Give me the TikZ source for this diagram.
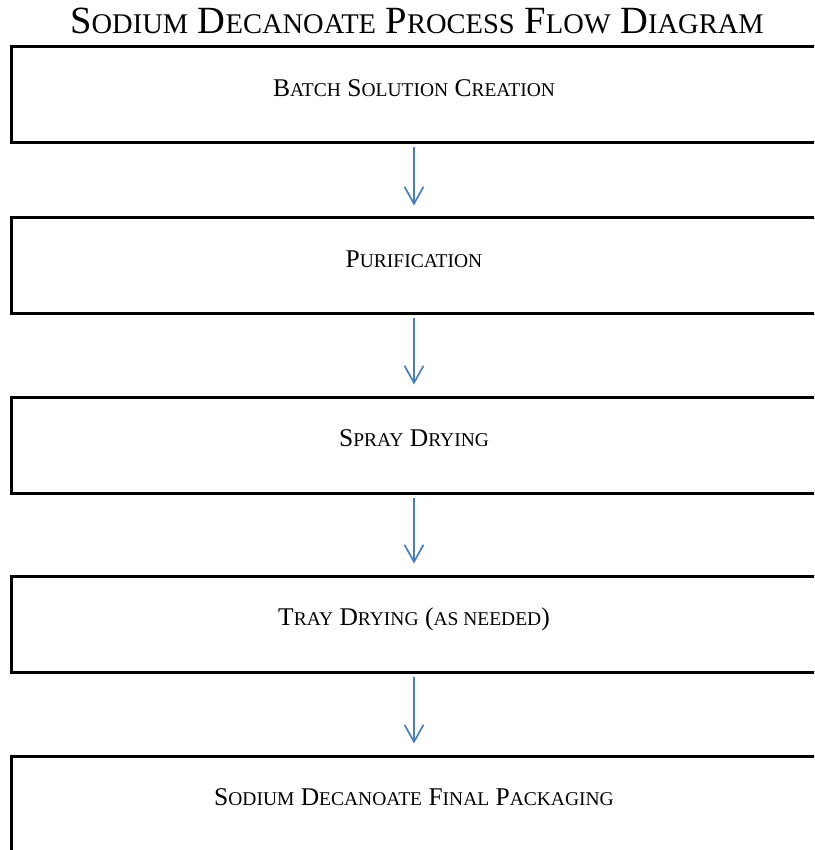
\documentclass[tikz,border=0pt]{standalone}
\usepackage{fontspec}
\setmainfont{Liberation Serif}
\usetikzlibrary{arrows.meta}
\definecolor{arrowblue}{HTML}{4A7EBB}
\newcommand\TS[1]{{\fontsize{28.5}{28.5}\selectfont #1}}
\newcommand\BS[1]{{\fontsize{19.5}{19.5}\selectfont #1}}
\begin{document}
\begin{tikzpicture}[x=1pt,y=-1pt,
  stepbox/.style={draw=black,line width=3pt,minimum width=819pt,inner sep=0pt,anchor=center},
  steptext/.style={anchor=base,inner sep=0pt,font=\fontsize{25.5}{25.5}\selectfont},
  flow/.style={draw=arrowblue,line width=1.7pt,-{Straight Barb[length=17pt,width=19pt,line width=1.7pt]},shorten <=3pt,shorten >=11pt}]
\useasboundingbox (0,0) rectangle (814,850);
\clip (0,0) rectangle (814,850);
\node[anchor=base,inner sep=0pt,font=\fontsize{38.5}{38.5}\selectfont] (title) at (417,33.5)
  {S\TS{ODIUM} D\TS{ECANOATE} P\TS{ROCESS} F\TS{LOW} D\TS{IAGRAM}};
\node[stepbox,minimum height=96pt] (b1) at (420.5,95) {};
\node[stepbox,minimum height=95pt] (b2) at (420.5,265.5) {};
\node[stepbox,minimum height=96pt] (b3) at (420.5,445) {};
\node[stepbox,minimum height=96pt] (b4) at (420.5,624) {};
\node[stepbox,minimum height=96pt] (b5) at (420.5,804) {};
\node[steptext] (t1) at (414,96.5) {B\BS{ATCH} S\BS{OLUTION} C\BS{REATION}};
\node[steptext] (t2) at (414,267.5) {P\BS{URIFICATION}};
\node[steptext] (t3) at (414,446.5) {S\BS{PRAY} D\BS{RYING}};
\node[steptext] (t4) at (414,625.5) {T\BS{RAY} D\BS{RYING} (\BS{AS NEEDED})};
\node[steptext] (t5) at (414,805.5) {S\BS{ODIUM} D\BS{ECANOATE} F\BS{INAL} P\BS{ACKAGING}};
\coordinate (ax) at (414,0);
\draw[flow] (b1.south -| ax) -- (b2.north -| ax);
\draw[flow] (b2.south -| ax) -- (b3.north -| ax);
\draw[flow] (b3.south -| ax) -- (b4.north -| ax);
\draw[flow] (b4.south -| ax) -- (b5.north -| ax);
\end{tikzpicture}
\end{document}
